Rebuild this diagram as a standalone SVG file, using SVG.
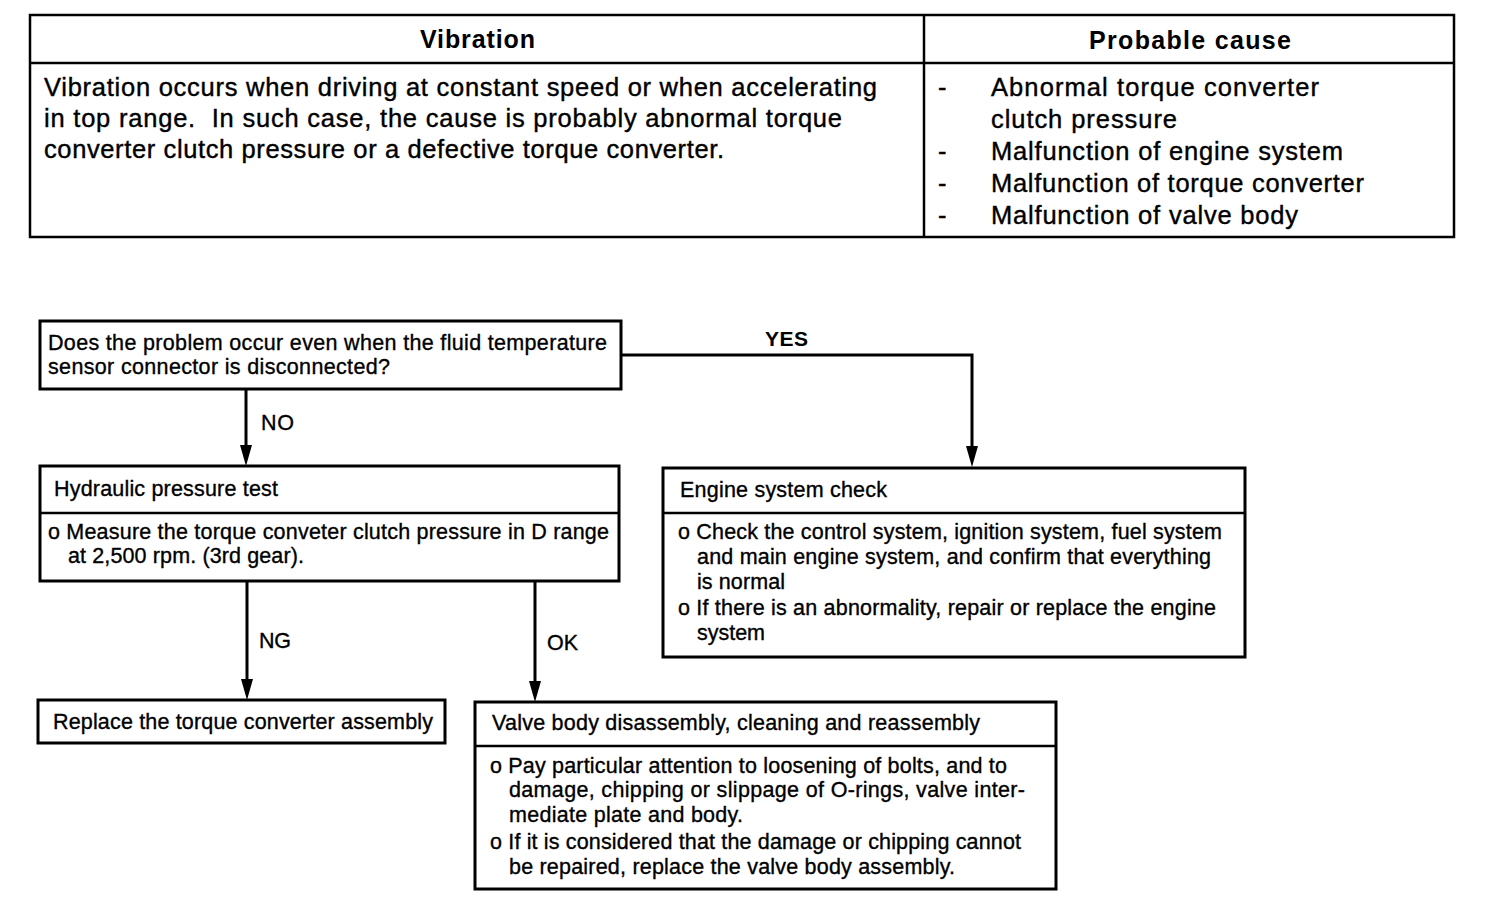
<svg xmlns="http://www.w3.org/2000/svg" width="1504" height="910" viewBox="0 0 1504 910">
<defs>
<style>
.box{fill:#fff;stroke:#000;stroke-width:3}
.tbl{fill:none;stroke:#000;stroke-width:2.5}
.ln{fill:none;stroke:#000;stroke-width:2.5}
.conn{fill:none;stroke:#000;stroke-width:3}
.ah{fill:#000;stroke:none}
text{font-family:"Liberation Sans",Arial,sans-serif;fill:#000}
.th{font-size:25px;font-weight:bold}
.tb{font-size:25.5px;stroke:#000;stroke-width:0.4}
.ft{font-size:21.5px;stroke:#000;stroke-width:0.35}
.lbl{font-size:21.5px;stroke:#000;stroke-width:0.35}
.lblb{font-size:21px;font-weight:bold}
</style>
</defs>
<rect width="1504" height="910" fill="#fff"/>

<g id="table">
<rect class="tbl" x="30" y="15" width="1424" height="222"/>
<line class="ln" x1="30" y1="63" x2="1454" y2="63"/>
<line class="ln" x1="924" y1="15" x2="924" y2="237"/>
<text class="th" x="420" y="48" textLength="115" lengthAdjust="spacing">Vibration</text>
<text class="th" x="1089" y="49" textLength="202" lengthAdjust="spacing">Probable cause</text>
<text class="tb" x="44" y="96" textLength="833" lengthAdjust="spacing">Vibration occurs when driving at constant speed or when accelerating</text>
<text class="tb" x="44" y="127" textLength="798" lengthAdjust="spacing" xml:space="preserve">in top range.  In such case, the cause is probably abnormal torque</text>
<text class="tb" x="44" y="158" textLength="680" lengthAdjust="spacing">converter clutch pressure or a defective torque converter.</text>
<text class="tb" x="938" y="96">-</text>
<text class="tb" x="991" y="96" textLength="328" lengthAdjust="spacing">Abnormal torque converter</text>
<text class="tb" x="991" y="128" textLength="186" lengthAdjust="spacing">clutch pressure</text>
<text class="tb" x="938" y="160">-</text>
<text class="tb" x="991" y="160" textLength="352" lengthAdjust="spacing">Malfunction of engine system</text>
<text class="tb" x="938" y="192">-</text>
<text class="tb" x="991" y="192" textLength="373" lengthAdjust="spacing">Malfunction of torque converter</text>
<text class="tb" x="938" y="224">-</text>
<text class="tb" x="991" y="224" textLength="307" lengthAdjust="spacing">Malfunction of valve body</text>
</g>

<g id="connectors">
<polyline class="conn" points="621,355 972,355 972,448"/>
<polygon class="ah" points="966,446 978,446 972,467"/>
<line class="conn" x1="246" y1="389" x2="246" y2="447"/>
<polygon class="ah" points="240,445 252,445 246,466"/>
<line class="conn" x1="247" y1="581" x2="247" y2="681"/>
<polygon class="ah" points="241,679 253,679 247,700"/>
<line class="conn" x1="535" y1="581" x2="535" y2="683"/>
<polygon class="ah" points="529,681 541,681 535,702"/>
<text class="lblb" x="765" y="346" textLength="43" lengthAdjust="spacing">YES</text>
<text class="lbl" x="261" y="430" textLength="33" lengthAdjust="spacing">NO</text>
<text class="lbl" x="259" y="648" textLength="32" lengthAdjust="spacing">NG</text>
<text class="lbl" x="547" y="650" textLength="31" lengthAdjust="spacing">OK</text>
</g>

<g id="q1">
<rect class="box" x="40" y="321" width="581" height="68"/>
<text class="ft" x="48" y="350" textLength="559" lengthAdjust="spacing">Does the problem occur even when the fluid temperature</text>
<text class="ft" x="48" y="374" textLength="342" lengthAdjust="spacing">sensor connector is disconnected?</text>
</g>

<g id="hydraulic">
<rect class="box" x="40" y="466" width="579" height="115"/>
<line class="ln" x1="40" y1="513" x2="619" y2="513"/>
<text class="ft" x="54" y="496" textLength="224" lengthAdjust="spacing">Hydraulic pressure test</text>
<text class="ft" x="48" y="539" textLength="561" lengthAdjust="spacing">o Measure the torque conveter clutch pressure in D range</text>
<text class="ft" x="68" y="563" textLength="236" lengthAdjust="spacing">at 2,500 rpm. (3rd gear).</text>
</g>

<g id="engine">
<rect class="box" x="663" y="468" width="582" height="189"/>
<line class="ln" x1="663" y1="513" x2="1245" y2="513"/>
<text class="ft" x="680" y="497" textLength="207" lengthAdjust="spacing">Engine system check</text>
<text class="ft" x="678" y="539" textLength="544" lengthAdjust="spacing">o Check the control system, ignition system, fuel system</text>
<text class="ft" x="697" y="564" textLength="514" lengthAdjust="spacing">and main engine system, and confirm that everything</text>
<text class="ft" x="697" y="589" textLength="88" lengthAdjust="spacing">is normal</text>
<text class="ft" x="678" y="615" textLength="538" lengthAdjust="spacing">o If there is an abnormality, repair or replace the engine</text>
<text class="ft" x="697" y="640" textLength="68" lengthAdjust="spacing">system</text>
</g>

<g id="replace">
<rect class="box" x="38" y="700" width="407" height="43"/>
<text class="ft" x="53" y="729" textLength="380" lengthAdjust="spacing">Replace the torque converter assembly</text>
</g>

<g id="valve">
<rect class="box" x="475" y="702" width="581" height="187"/>
<line class="ln" x1="475" y1="746" x2="1056" y2="746"/>
<text class="ft" x="492" y="730" textLength="488" lengthAdjust="spacing">Valve body disassembly, cleaning and reassembly</text>
<text class="ft" x="490" y="773" textLength="517" lengthAdjust="spacing">o Pay particular attention to loosening of bolts, and to</text>
<text class="ft" x="509" y="797" textLength="516" lengthAdjust="spacing">damage, chipping or slippage of O-rings, valve inter-</text>
<text class="ft" x="509" y="822" textLength="234" lengthAdjust="spacing">mediate plate and body.</text>
<text class="ft" x="490" y="849" textLength="531" lengthAdjust="spacing">o If it is considered that the damage or chipping cannot</text>
<text class="ft" x="509" y="874" textLength="446" lengthAdjust="spacing">be repaired, replace the valve body assembly.</text>
</g>
</svg>
